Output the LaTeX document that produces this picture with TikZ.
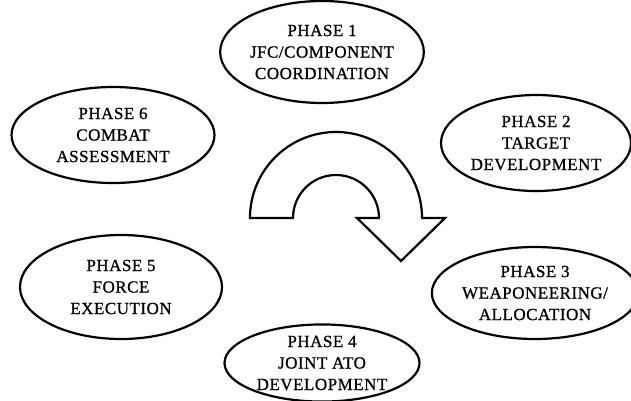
\documentclass[tikz,border=0pt]{standalone}
\usepackage{fontspec}
\setmainfont{Liberation Serif}[LetterSpace=3,FakeBold=0.9]
\usetikzlibrary{shapes.geometric}
\begin{document}
\begin{tikzpicture}[x=1pt,y=-1pt,
  phase/.style={ellipse,draw,line width=2.2pt,inner sep=0pt,align=center,
    font=\fontsize{17}{21.5}\selectfont},
  arrowshape/.style={draw,line width=2.2pt,line join=miter}]
\useasboundingbox (0,0) rectangle (631,400);
\clip (0,0) rectangle (631,400);
\node[phase,minimum width=180pt,minimum height=102pt] (p1) at (322,52) {PHASE 1\\JFC/COMPONENT\\COORDINATION};
\node[phase,minimum width=190pt,minimum height=96pt] (p2) at (536,143) {PHASE 2\\TARGET\\DEVELOPMENT};
\node[phase,minimum width=192pt,minimum height=92pt] (p3) at (535,293) {PHASE 3\\WEAPONEERING/\\ALLOCATION};
\node[phase,minimum width=195pt,minimum height=76pt] (p4) at (322,363) {PHASE 4\\JOINT ATO\\DEVELOPMENT};
\node[phase,minimum width=202pt,minimum height=104pt] (p5) at (121,287) {PHASE 5\\FORCE\\EXECUTION};
\node[phase,minimum width=203pt,minimum height=96pt] (p6) at (113,135) {PHASE 6\\COMBAT\\ASSESSMENT};
\draw[arrowshape] (250,218) arc[start angle=180,end angle=360,radius=86]
  -- (445,218) -- (401,261) -- (357,218) -- (379,218)
  arc[start angle=0,end angle=-180,radius=43] -- cycle;
\end{tikzpicture}
\end{document}
